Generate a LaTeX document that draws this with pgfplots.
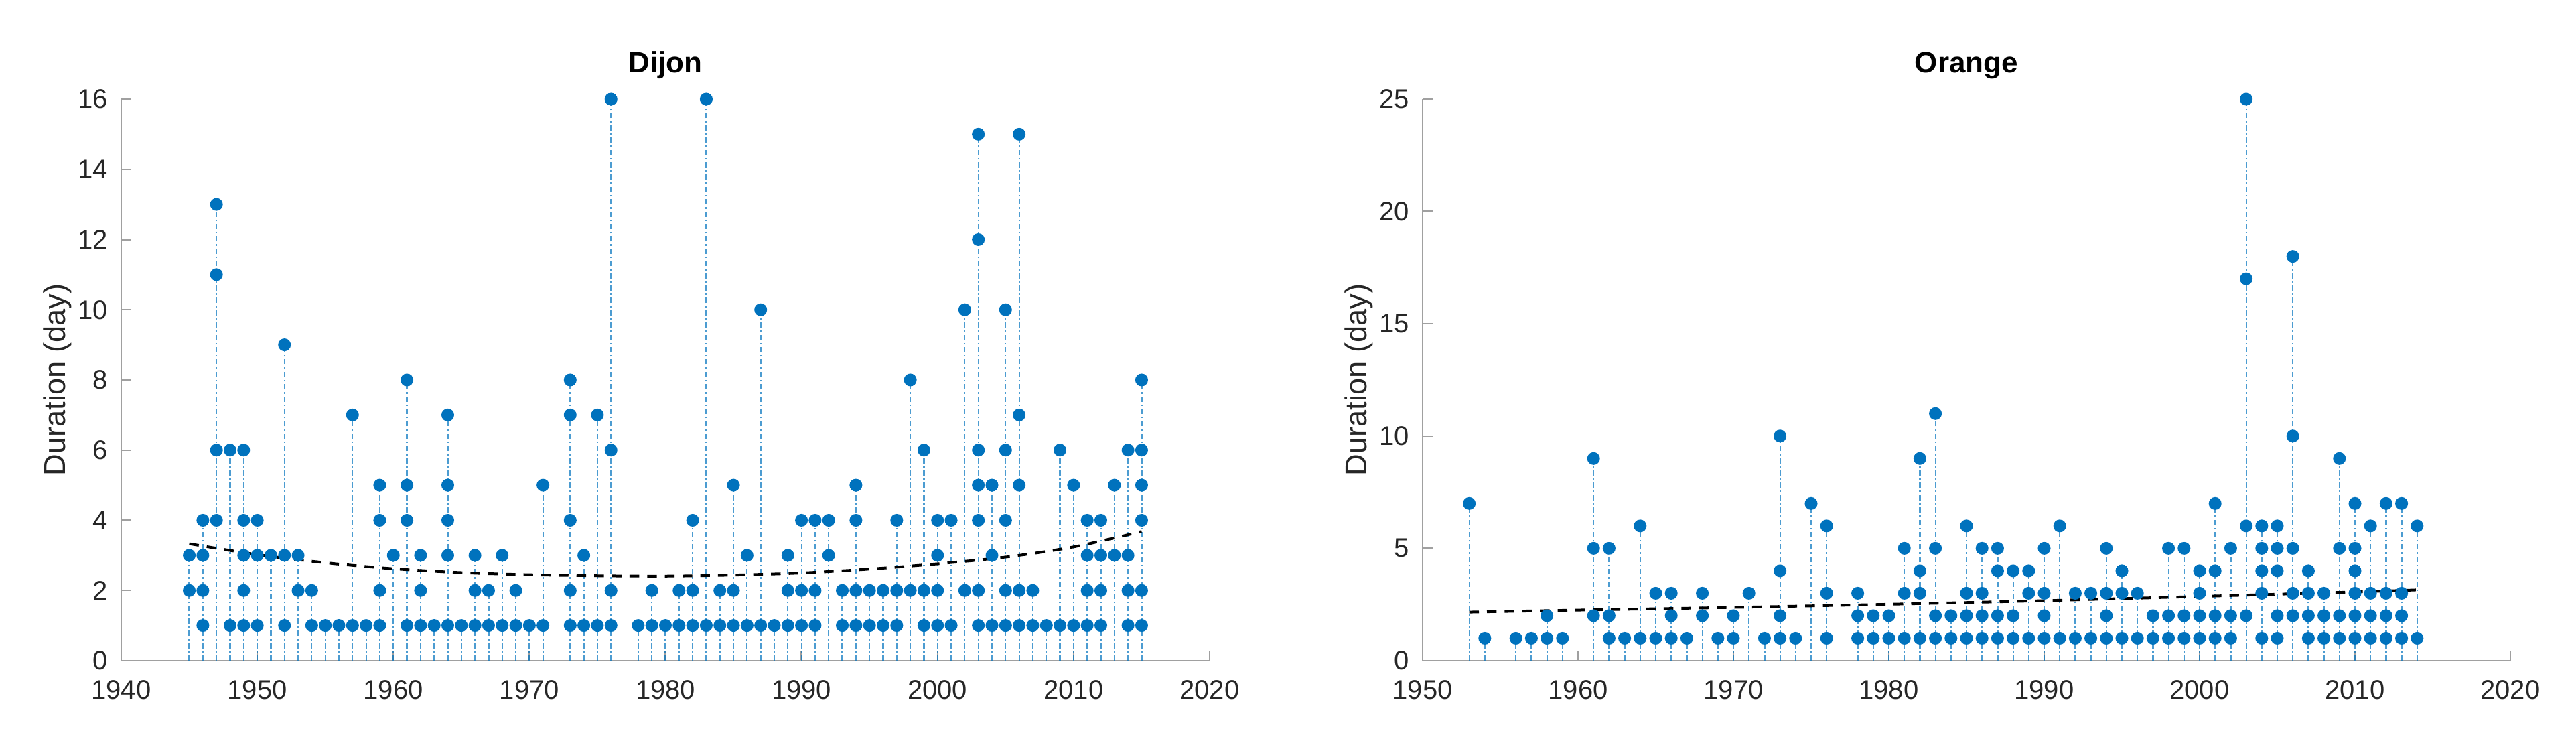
\documentclass[border=0pt]{standalone}
\usepackage{fontspec}
\setmainfont{Liberation Sans}
\usepackage{pgfplots}
\usepackage{pgfplotstable}
\pgfplotsset{compat=1.18}
\definecolor{matblue}{RGB}{0,114,189}
\definecolor{axgray}{RGB}{160,160,160}
\definecolor{txtgray}{RGB}{38,38,38}

\pgfplotstableread{
x y
1945 2
1945 3
1946 1
1946 2
1946 3
1946 4
1947 4
1947 6
1947 11
1947 13
1948 1
1948 6
1949 1
1949 2
1949 3
1949 4
1949 6
1950 1
1950 3
1950 4
1951 3
1952 1
1952 3
1952 9
1953 2
1953 3
1954 1
1954 2
1955 1
1956 1
1957 1
1957 7
1958 1
1959 1
1959 2
1959 4
1959 5
1960 3
1961 1
1961 4
1961 5
1961 8
1962 1
1962 2
1962 3
1963 1
1964 1
1964 3
1964 4
1964 5
1964 7
1965 1
1966 1
1966 2
1966 3
1967 1
1967 2
1968 1
1968 3
1969 1
1969 2
1970 1
1971 1
1971 5
1973 1
1973 2
1973 4
1973 7
1973 8
1974 1
1974 3
1975 1
1975 7
1976 1
1976 2
1976 6
1976 16
1978 1
1979 1
1979 2
1980 1
1981 1
1981 2
1982 1
1982 2
1982 4
1983 1
1983 16
1984 1
1984 2
1985 1
1985 2
1985 5
1986 1
1986 3
1987 1
1987 10
1988 1
1989 1
1989 2
1989 3
1990 1
1990 2
1990 4
1991 1
1991 2
1991 4
1992 3
1992 4
1993 1
1993 2
1994 1
1994 2
1994 4
1994 5
1995 1
1995 2
1996 1
1996 2
1997 1
1997 2
1997 4
1998 2
1998 8
1999 1
1999 2
1999 6
2000 1
2000 2
2000 3
2000 4
2001 1
2001 4
2002 2
2002 10
2003 1
2003 2
2003 4
2003 5
2003 6
2003 12
2003 15
2004 1
2004 3
2004 5
2005 1
2005 2
2005 4
2005 6
2005 10
2006 1
2006 2
2006 5
2006 7
2006 15
2007 1
2007 2
2008 1
2009 1
2009 6
2010 1
2010 5
2011 1
2011 2
2011 3
2011 4
2012 1
2012 2
2012 3
2012 4
2013 3
2013 5
2014 1
2014 2
2014 3
2014 6
2015 1
2015 2
2015 4
2015 5
2015 6
2015 8
}\dijon

\pgfplotstableread{
x y
1945 3.33
1950 3.02
1955 2.79
1960 2.62
1965 2.51
1970 2.45
1975 2.42
1980 2.41
1985 2.44
1990 2.50
1995 2.61
2000 2.76
2005 2.95
2010 3.24
2015 3.68
}\dijontrend

\pgfplotstableread{
x y
1953 7
1954 1
1956 1
1957 1
1958 1
1958 2
1959 1
1961 2
1961 5
1961 9
1962 1
1962 2
1962 5
1963 1
1964 1
1964 6
1965 1
1965 3
1966 1
1966 2
1966 3
1967 1
1968 2
1968 3
1969 1
1970 1
1970 2
1971 3
1972 1
1973 1
1973 2
1973 4
1973 10
1974 1
1975 7
1976 1
1976 3
1976 6
1978 1
1978 2
1978 3
1979 1
1979 2
1980 1
1980 2
1981 1
1981 3
1981 5
1982 1
1982 3
1982 4
1982 9
1983 1
1983 2
1983 5
1983 11
1984 1
1984 2
1985 1
1985 2
1985 3
1985 6
1986 1
1986 2
1986 3
1986 5
1987 1
1987 2
1987 4
1987 5
1988 1
1988 2
1988 4
1989 1
1989 3
1989 4
1990 1
1990 2
1990 3
1990 5
1991 1
1991 6
1992 1
1992 3
1993 1
1993 3
1994 1
1994 2
1994 3
1994 5
1995 1
1995 3
1995 4
1996 1
1996 3
1997 1
1997 2
1998 1
1998 2
1998 5
1999 1
1999 2
1999 5
2000 1
2000 2
2000 3
2000 4
2001 1
2001 2
2001 4
2001 7
2002 1
2002 2
2002 5
2003 2
2003 6
2003 17
2003 25
2004 1
2004 3
2004 4
2004 5
2004 6
2005 1
2005 2
2005 4
2005 5
2005 6
2006 2
2006 3
2006 5
2006 10
2006 18
2007 1
2007 2
2007 3
2007 4
2008 1
2008 2
2008 3
2009 1
2009 2
2009 5
2009 9
2010 1
2010 2
2010 3
2010 4
2010 5
2010 7
2011 1
2011 2
2011 3
2011 6
2012 1
2012 2
2012 3
2012 7
2013 1
2013 2
2013 3
2013 7
2014 1
2014 6
}\orange

\pgfplotstableread{
x y
1953 2.16
1960 2.25
1970 2.37
1980 2.51
1990 2.67
2000 2.86
2010 3.06
2014 3.15
}\orangetrend

\pgfplotsset{
  matstyle/.style={
    scale only axis,
    height=209.5pt,
    axis x line=bottom,
    axis y line=left,
    axis line style={-, draw=axgray, line width=0.6pt},
    tick style={draw=axgray, line width=0.6pt},
    tick align=inside,
    major tick length=3.75pt,
    clip=false,
    font=\fontsize{10}{12}\selectfont,
    tick label style={text=txtgray},
    /pgf/number format/assume math mode=true,
    xticklabel style={anchor=base, yshift=-14.5pt, /pgf/number format/1000 sep={}},
    yticklabel style={anchor=east, inner sep=0pt, xshift=-4.75pt},
    ylabel={Duration (day)},
    ylabel style={at={(axis description cs:0,0.5)}, anchor=center, rotate=0, yshift=23.75pt, font=\fontsize{11.3}{13}\selectfont, text=txtgray},
    title style={at={(axis description cs:0.5,1)}, anchor=base, yshift=3.75pt, font=\fontsize{11}{13}\selectfont\bfseries, text=black},
  },
  stemstyle/.style={
    ycomb,
    draw=matblue, draw opacity=0.7,
    line width=0.55pt,
    dash pattern=on 2pt off 1pt on 0.6pt off 1pt,
    mark=*, mark size=2.1pt,
    mark options={solid, fill=matblue, draw=matblue, draw opacity=1, fill opacity=1},
  },
  trendstyle/.style={
    black, line width=1pt, dash pattern=on 3.6pt off 3pt, no marks, smooth,
  },
}

\begin{document}
\begin{tikzpicture}
\useasboundingbox (-45.25pt,-26.25pt) rectangle (916.25pt,246.5pt);
\begin{axis}[matstyle,
  at={(0pt,0pt)}, anchor=south west,
  width=406.25pt,
  xmin=1940, xmax=2020, ymin=0, ymax=16,
  xtick={1940,1950,...,2020},
  ytick={0,2,...,16},
  title={Dijon},
]
\addplot[stemstyle] table[x=x,y=y] {\dijon};
\addplot[trendstyle] table[x=x,y=y] {\dijontrend};
\end{axis}
\begin{axis}[matstyle,
  at={(485.75pt,0pt)}, anchor=south west,
  width=406pt,
  xmin=1950, xmax=2020, ymin=0, ymax=25,
  xtick={1950,1960,...,2020},
  ytick={0,5,...,25},
  title={Orange},
]
\addplot[stemstyle] table[x=x,y=y] {\orange};
\addplot[trendstyle] table[x=x,y=y] {\orangetrend};
\end{axis}
\end{tikzpicture}
\end{document}
